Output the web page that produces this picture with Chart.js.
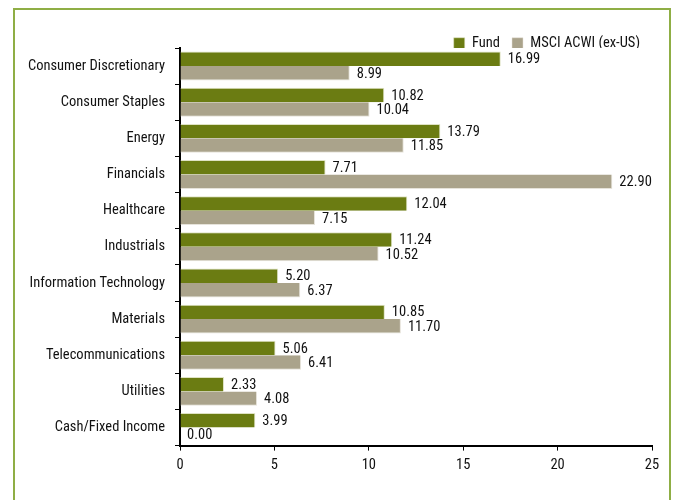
<!DOCTYPE html>
<html lang="en">

<head>
    <meta charset="UTF-8">
    <title>Sector Allocation</title>
    <script src="https://cdn.jsdelivr.net/npm/chart.js"></script>
    <style>
        html, body { margin: 0; padding: 0; background: #fff; }
    </style>
</head>

<body>
    <canvas id="sectorChart" width="673" height="500"></canvas>

    <script>
        // Sector weights (%)
        const sectors = [
            'Consumer Discretionary', 'Consumer Staples', 'Energy', 'Financials', 'Healthcare',
            'Industrials', 'Information Technology', 'Materials', 'Telecommunications',
            'Utilities', 'Cash/Fixed Income'
        ];
        const fundWeights = [16.99, 10.82, 13.79, 7.71, 12.04, 11.24, 5.20, 10.85, 5.06, 2.33, 3.99];
        const indexWeights = [8.99, 10.04, 11.85, 22.90, 7.15, 10.52, 6.37, 11.70, 6.41, 4.08, 0.00];
        const xTicks = [0, 5, 10, 15, 20, 25];

        const FONT = '"Roboto Condensed", "Liberation Sans", sans-serif';
        const FONT_SIZE = 14.5;

        // green frame round the chart
        const framePlugin = {
            id: 'frame',
            beforeDraw(chart) {
                const c = chart.ctx;
                c.save();
                c.strokeStyle = '#8fae45';
                c.lineWidth = 2;
                c.beginPath();
                c.moveTo(14, 510);
                c.lineTo(14, 9);
                c.lineTo(670, 9);
                c.lineTo(670, 510);
                c.stroke();
                c.restore();
            }
        };

        // squeeze the legend box so it sits right on top of the plot
        const legendFit = {
            id: 'legendFit',
            beforeLayout(chart) {
                const lg = chart.legend;
                if (lg && !lg._patched) {
                    const fit = lg.fit.bind(lg);
                    lg.fit = function () { fit(); this.height = 24; };
                    lg._patched = true;
                }
            }
        };

        // value labels at the end of each bar
        const valueLabels = {
            id: 'valueLabels',
            afterDatasetsDraw(chart) {
                const c = chart.ctx;
                c.save();
                c.font = FONT_SIZE + 'px ' + FONT;
                c.fillStyle = '#111';
                c.textBaseline = 'middle';
                chart.data.datasets.forEach((ds, i) => {
                    chart.getDatasetMeta(i).data.forEach((bar, j) => {
                        c.fillText(ds.data[j].toFixed(2), bar.x + 7, bar.y + 1);
                    });
                });
                c.restore();
            }
        };

        const ctx = document.getElementById('sectorChart').getContext('2d');
        new Chart(ctx, {
            type: 'bar',
            data: {
                labels: sectors,
                datasets: [{
                    label: 'Fund',
                    data: fundWeights,
                    backgroundColor: '#6b7c12',
                    borderColor: '#dfe3c4',
                    borderWidth: { top: 1, right: 1, bottom: 0, left: 0 },
                    borderSkipped: false
                }, {
                    label: 'MSCI ACWI (ex-US)',
                    data: indexWeights,
                    backgroundColor: '#aaa38b',
                    borderColor: '#e6e3da',
                    borderWidth: { top: 0, right: 1, bottom: 1, left: 0 },
                    borderSkipped: false
                }]
            },
            options: {
                indexAxis: 'y',
                responsive: false,
                animation: false,
                devicePixelRatio: 1,
                datasets: {
                    bar: { categoryPercentage: 0.8, barPercentage: 1.0 }
                },
                layout: { padding: { left: 0, right: 21, top: 24, bottom: 20 } },
                plugins: {
                    legend: {
                        display: true,
                        position: 'top',
                        align: 'end',
                        labels: {
                            boxWidth: 11,
                            boxHeight: 11,
                            padding: 12,
                            color: '#111',
                            font: { family: FONT, size: FONT_SIZE }
                        }
                    },
                    tooltip: { enabled: false }
                },
                scales: {
                    x: {
                        min: 0,
                        max: 25,
                        afterBuildTicks(axis) {
                            axis.ticks = xTicks.map(v => ({ value: v }));
                        },
                        grid: {
                            drawOnChartArea: false,
                            drawTicks: true,
                            tickLength: 5,
                            color: '#000',
                            lineWidth: 1
                        },
                        border: { display: true, color: '#000', width: 2 },
                        ticks: {
                            color: '#111',
                            padding: 6,
                            font: { family: FONT, size: FONT_SIZE }
                        }
                    },
                    y: {
                        afterFit(axis) { axis.width = 180; },
                        grid: {
                            offset: true,
                            drawOnChartArea: false,
                            drawTicks: true,
                            tickLength: 5,
                            color: '#000',
                            lineWidth: 1
                        },
                        border: { display: true, color: '#000', width: 2 },
                        ticks: {
                            color: '#111',
                            padding: 10,
                            font: { family: FONT, size: FONT_SIZE }
                        }
                    }
                }
            },
            plugins: [framePlugin, legendFit, valueLabels]
        });
    </script>
</body>

</html>
